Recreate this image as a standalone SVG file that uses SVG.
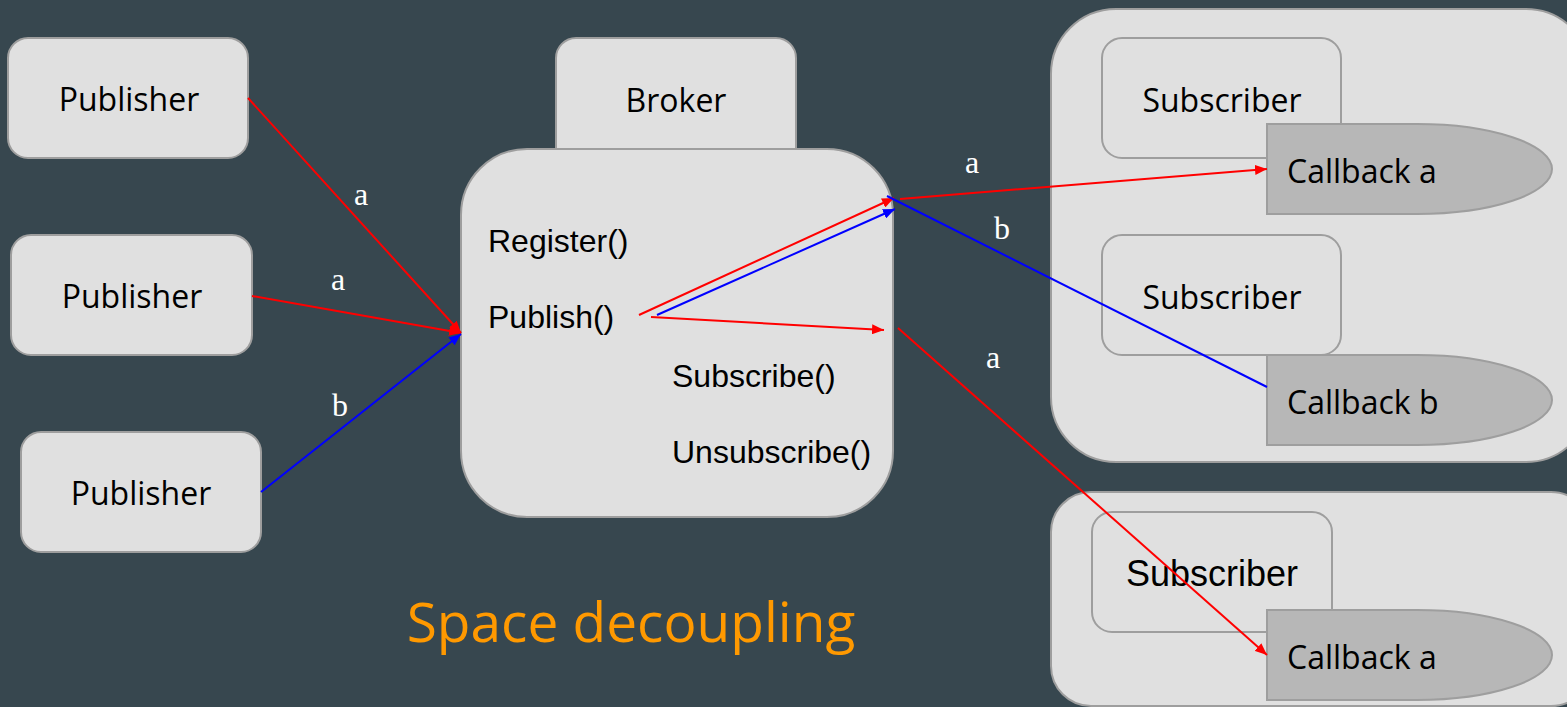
<svg xmlns="http://www.w3.org/2000/svg" width="1567" height="707" viewBox="0 0 1567 707">
<style>
.box{fill:#e0e0e0;stroke:#9e9e9e;stroke-width:2}
.cb{fill:#b7b7b7;stroke:#9e9e9e;stroke-width:2}
.t{font-family:"Open Sans","DejaVu Sans",sans-serif;font-size:32px;fill:#000}
.m{font-family:"Liberation Sans",Arial,sans-serif;font-size:32px;fill:#000}
.lbl{font-family:"Liberation Serif","DejaVu Serif",serif;font-size:32px;fill:#fff;text-anchor:middle}
.r{stroke:#ff0000;stroke-width:2;fill:none}
.b{stroke:#0000ff;stroke-width:2;fill:none}
</style>
<defs>
<marker id="ar" viewBox="0 0 12 10" refX="12" refY="5" markerWidth="12" markerHeight="10" markerUnits="userSpaceOnUse" orient="auto"><path d="M0,0 L12,5 L0,10 Z" fill="#ff0000"/></marker>
<marker id="ab" viewBox="0 0 12 10" refX="12" refY="5" markerWidth="12" markerHeight="10" markerUnits="userSpaceOnUse" orient="auto"><path d="M0,0 L12,5 L0,10 Z" fill="#0000ff"/></marker>
</defs>
<rect width="1567" height="707" fill="#37474f"/>

<g id="publisher1"><rect class="box" x="8" y="38" width="240" height="120" rx="20"/><text class="t" x="129" y="111" text-anchor="middle">Publisher</text></g>
<g id="publisher2"><rect class="box" x="11" y="235" width="241" height="120" rx="20"/><text class="t" x="132" y="308" text-anchor="middle">Publisher</text></g>
<g id="publisher3"><rect class="box" x="21" y="432" width="240" height="120" rx="20"/><text class="t" x="141" y="505" text-anchor="middle">Publisher</text></g>

<g id="broker">
<rect class="box" x="556" y="38" width="240" height="140" rx="20"/>
<text class="t" x="676" y="112" text-anchor="middle">Broker</text>
<rect class="box" x="461" y="149" width="432" height="368" rx="66"/>
<text class="m" x="488" y="252">Register()</text>
<text class="m" x="488" y="328">Publish()</text>
<text class="m" x="672" y="387">Subscribe()</text>
<text class="m" x="672" y="463">Unsubscribe()</text>
</g>

<g id="subscribers1">
<rect class="box" x="1051" y="9" width="540" height="453" rx="65"/>
<g id="subscriber1"><rect class="box" x="1102" y="38" width="239" height="120" rx="20"/><text class="t" x="1222" y="112" text-anchor="middle">Subscriber</text></g>
<g id="callback1"><path class="cb" d="M1267,124 H1417 A135,45 0 0 1 1417,214 H1267 Z"/><text class="t" x="1287" y="183">Callback a</text></g>
<g id="subscriber2"><rect class="box" x="1102" y="235" width="239" height="120" rx="20"/><text class="t" x="1222" y="309" text-anchor="middle">Subscriber</text></g>
<g id="callback2"><path class="cb" d="M1267,355 H1417 A135,45 0 0 1 1417,445 H1267 Z"/><text class="t" x="1287" y="414">Callback b</text></g>
</g>

<g id="subscribers2">
<rect class="box" x="1051" y="492" width="540" height="214" rx="40"/>
<g id="subscriber3"><rect class="box" x="1092" y="512" width="240" height="120" rx="20"/><text class="m" x="1212" y="586" text-anchor="middle" style="font-size:36px">Subscriber</text></g>
<g id="callback3"><path class="cb" d="M1267,610 H1417 A135,45 0 0 1 1417,700 H1267 Z"/><text class="t" x="1287" y="669">Callback a</text></g>
</g>

<text x="631" y="642" text-anchor="middle" style="font-family:'Open Sans','DejaVu Sans',sans-serif;font-size:55px;fill:#ff9900">Space decoupling</text>

<g id="connectors">
<line class="r" x1="248" y1="98" x2="461" y2="333" marker-end="url(#ar)"/>
<line class="r" x1="252" y1="296" x2="461" y2="333" marker-end="url(#ar)"/>
<line class="b" x1="261" y1="492" x2="461" y2="334" marker-end="url(#ab)"/>
<line class="r" x1="639" y1="315" x2="894" y2="198" marker-end="url(#ar)"/>
<line class="b" x1="657" y1="315" x2="895" y2="209" marker-end="url(#ab)"/>
<line class="r" x1="651" y1="317" x2="884" y2="330" marker-end="url(#ar)"/>
<line class="r" x1="900" y1="199" x2="1267" y2="169" marker-end="url(#ar)"/>
<line class="b" x1="887" y1="196" x2="1267" y2="387"/>
<line class="r" x1="898" y1="328" x2="1267" y2="655" marker-end="url(#ar)"/>
<text class="lbl" x="361" y="205">a</text>
<text class="lbl" x="338" y="290">a</text>
<text class="lbl" x="340" y="416">b</text>
<text class="lbl" x="972" y="173">a</text>
<text class="lbl" x="1002" y="239">b</text>
<text class="lbl" x="993" y="368">a</text>
</g>
</svg>
